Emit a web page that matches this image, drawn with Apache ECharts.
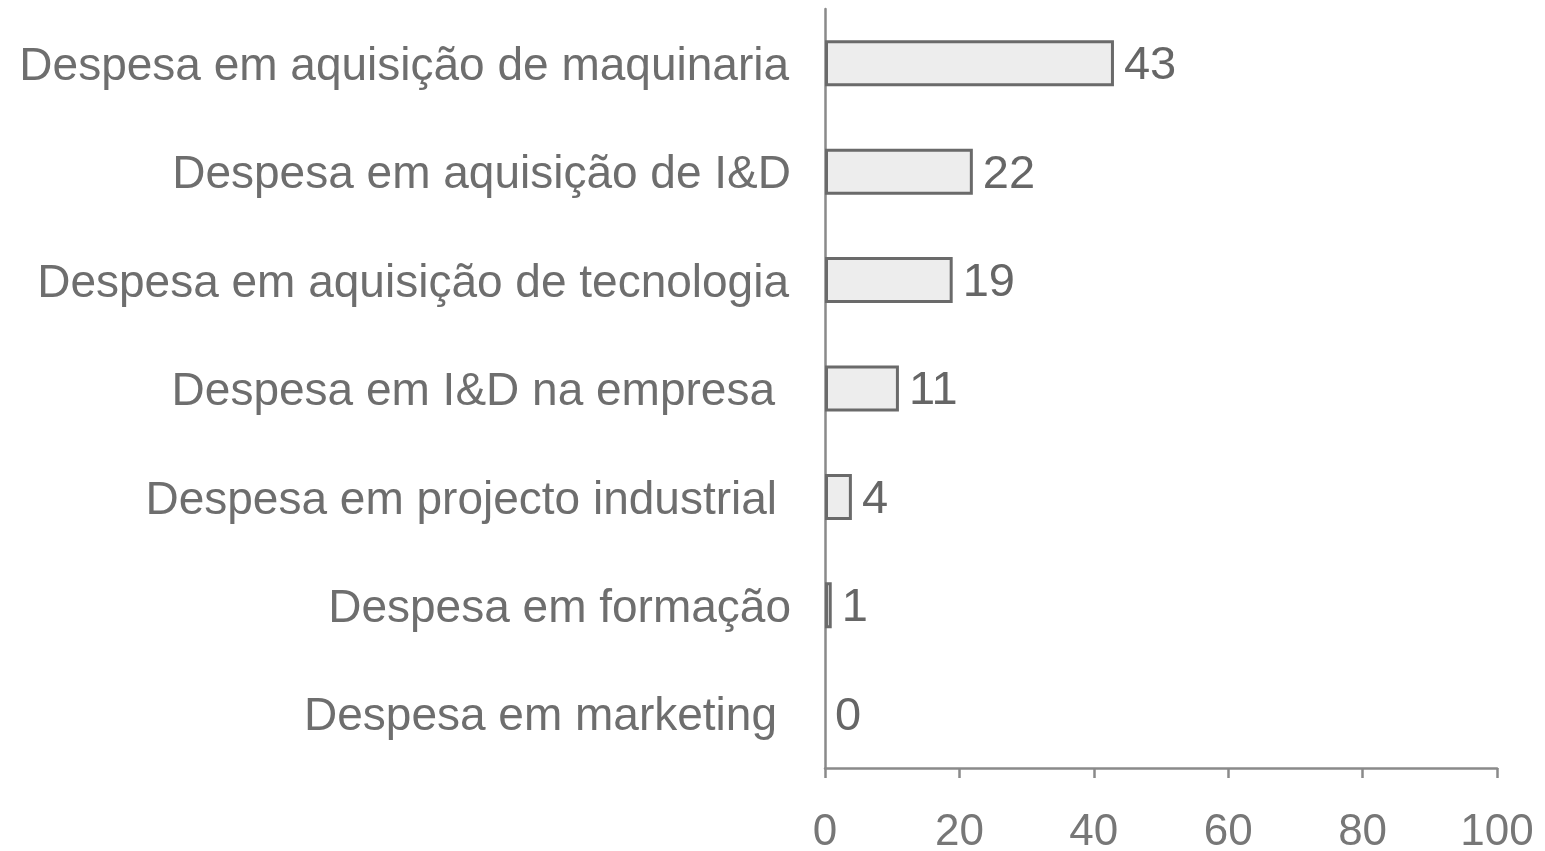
<!DOCTYPE html>
<html>
<head>
<meta charset="utf-8">
<script src="https://cdn.jsdelivr.net/npm/echarts@6/dist/echarts.min.js"></script>
<style>html,body{margin:0;padding:0;background:#fff;}#c{width:1545px;height:851px;}</style>
</head>
<body>
<div id="c"></div>
<script>
const categories = [
  "Despesa em aquisição de maquinaria",
  "Despesa em aquisição de I&D",
  "Despesa em aquisição de tecnologia",
  "Despesa em I&D na empresa",
  "Despesa em projecto industrial",
  "Despesa em formação",
  "Despesa em marketing"
];
const values = [43, 22, 19, 11, 4, 1, 0];
const labelPadRight = [2, 0, 2, 16, 14, 0, 14];

const chart = echarts.init(document.getElementById('c'));
chart.setOption({
  animation: false,
  backgroundColor: '#ffffff',
  grid: { left: 825, right: 48, top: 9, bottom: 83, containLabel: false, outerBoundsMode: 'none' },
  xAxis: {
    type: 'value', min: 0, max: 100, interval: 20,
    axisLine: { show: true, lineStyle: { color: '#8a8a8a', width: 2.5 } },
    axisTick: { show: true, length: 10, lineStyle: { color: '#8a8a8a', width: 2.5 } },
    splitLine: { show: false },
    axisLabel: { fontSize: 44, color: '#777777', margin: 43, fontFamily: 'Liberation Sans' }
  },
  yAxis: {
    type: 'category', inverse: true,
    data: categories,
    axisLine: { show: true, onZero: false, lineStyle: { color: '#8a8a8a', width: 2.5 } },
    axisTick: { show: false },
    axisLabel: {
      fontSize: 46, color: '#6e6e6e', margin: 34, fontFamily: 'Liberation Sans',
      formatter: (v, i) => '{p' + i + '|' + v + '}',
      rich: Object.fromEntries(labelPadRight.map((p, i) => ['p' + i, { fontSize: 46, color: '#6e6e6e', fontFamily: 'Liberation Sans', padding: [8, p, 0, 0] }]))
    }
  },
  series: [{
    type: 'bar',
    data: values.map(v => ({ value: v, itemStyle: v === 0 ? { borderWidth: 0 } : {} })),
    barWidth: 46,
    itemStyle: { color: '#ededed', borderColor: '#6a6a6a', borderWidth: 3 },
    label: {
      show: true, position: 'right', distance: 10, fontFamily: 'Liberation Sans',
      formatter: '{v|{c}}',
      rich: { v: { fontSize: 47, color: '#666666', fontFamily: 'Liberation Sans', padding: [6, 0, 0, 0] } }
    }
  }]
});
</script>
</body>
</html>
